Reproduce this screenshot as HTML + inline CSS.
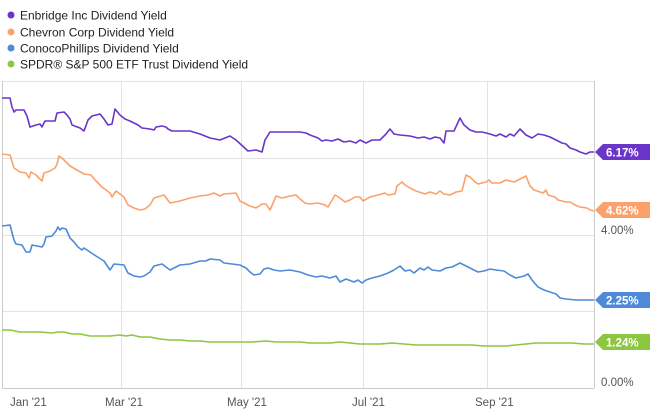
<!DOCTYPE html>
<html><head><meta charset="utf-8"><style>
body{margin:0;background:#fff;}
svg{display:block;font-family:"Liberation Sans",sans-serif;}
</style></head><body>
<svg width="650" height="415" viewBox="0 0 650 415">
<g stroke="#e3e3e3" stroke-width="1">
<line x1="2" y1="81.5" x2="594" y2="81.5"/>
<line x1="2" y1="158.5" x2="594" y2="158.5"/>
<line x1="2" y1="235.5" x2="594" y2="235.5"/>
<line x1="2" y1="311.5" x2="594" y2="311.5"/>
<line x1="121.5" y1="81" x2="121.5" y2="388"/>
<line x1="241.5" y1="81" x2="241.5" y2="388"/>
<line x1="363.5" y1="81" x2="363.5" y2="388"/>
<line x1="487.5" y1="81" x2="487.5" y2="388"/>
</g>
<line x1="2.5" y1="81" x2="2.5" y2="388" stroke="#ccc"/>
<line x1="594.5" y1="81" x2="594.5" y2="388" stroke="#ccc"/>
<line x1="2" y1="388.5" x2="594" y2="388.5" stroke="#ccc"/>
<g fill="none" stroke-width="1.6" stroke-linejoin="round">
<polyline stroke="#6a35c9" points="2,98 10,98 12,107 14,112 16,110 24,110 27,116 30,127 36,125 40,124 42,127 45,121 55,121 57,113 64,112 67,115 70,119 72,125 80,128 84,131 88,120 92,116 100,114 104,119 108,125 112,124 115,109 120,115 125,119 130,121 138,125 142,128 150,129 154,130 156,127 162,126 166,127 168,129 172,131 184,131 190,131 200,134 210,138 220,140 230,136 236,140 248,151 256,150 262,152 265,140 270,132 290,132 300,132 306,133 310,135 318,138 322,141 326,140 332,141 338,139 344,142 350,141 356,143 360,140 366,143 372,140 380,140 386,134 390,129 394,134 400,135 410,136 418,138 424,137 430,139 435,137 440,138 444,143 446,131 454,131 460,118 464,125 470,130 476,132 482,132 490,134 496,136 500,134 506,137 510,134 514,136 520,129 526,135 532,138 538,134 544,135 550,137 556,140 562,143 566,144 570,148 576,150 580,152 586,154 590,152 594,152"/>
<polyline stroke="#fba26c" points="2,154 10,155 14,168 20,172 26,173 29,178 31,172 36,175 42,181 44,173 50,171 55,168 57,164 59,156 62,158 67,163 70,166 77,170 84,174 91,175 96,181 102,187 110,193 112,197 116,191 124,197 128,205 134,208 140,210 145,209 150,205 154,198 164,195 170,203 180,201 190,198 200,196 208,195 214,193 220,196 224,194 236,193 240,201 250,206 256,208 262,204 266,204 270,210 276,196 282,198 290,196 296,195 300,199 305,203 310,204 318,203 325,205 328,207 335,195 340,198 345,202 350,200 355,197 360,197 363,201 370,197 378,195 385,193 388,195 395,194 397,186 402,182 405,185 410,188 416,191 425,194 430,192 436,194 440,191 444,194 450,195 456,192 462,191 466,175 470,177 474,181 478,184 486,182 489,180 492,183 500,183 506,180 514,182 520,179 526,176 530,186 534,190 543,193 546,190 548,195 555,197 558,200 566,202 570,202 575,205 580,207 587,208 590,210 594,211"/>
<polyline stroke="#4f8ad8" points="2,226 10,225 14,240 16,244 22,245 26,252 30,252 32,245 42,247 44,244 46,237 52,236 56,231 58,227 60,230 62,228 66,229 70,238 74,242 78,247 82,250 84,248 90,252 96,256 104,261 110,270 114,264 124,265 128,273 134,276 140,277 144,276 150,272 154,266 162,264 166,267 170,270 176,267 180,265 190,264 200,261 206,261 210,259 220,260 224,263 240,265 246,268 250,272 254,275 260,274 264,269 268,268 274,270 280,271 290,270 300,272 308,275 316,277 322,276 330,278 336,276 340,282 346,279 354,282 358,280 362,283 366,280 372,278 380,276 388,273 394,270 400,266 405,271 410,270 414,273 420,268 424,270 428,267 432,270 440,271 446,268 452,267 460,263 466,266 472,269 478,272 484,271 490,269 496,270 504,271 510,275 516,278 524,276 528,274 532,280 538,287 544,290 550,292 556,294 560,298 566,299 576,300 594,300"/>
<polyline stroke="#8dc63f" points="2,330 10,330 20,332 30,332 40,332 52,333 58,332 64,332 72,334 80,334 90,336 100,336 110,336 120,335 126,336 132,335 140,337 150,337 160,339 170,340 180,340 190,341 200,341 210,342 220,342 232,342 242,342 252,342 266,341 276,342 290,342 300,342 310,343 320,343 330,343 340,342 350,343 360,344 370,344 380,344 392,343 404,344 416,345 430,345 444,345 458,345 472,345 484,346 496,346 506,346 516,345 526,344 536,343 548,343 560,343 572,343 584,344 594,344"/>
</g>
<g font-size="11.5" font-weight="bold" fill="#fff">
<path d="M595,152 L603,144 L650,144 L650,160 L603,160 Z" fill="#6a35c9"/>
<text x="606" y="156.5">6.17%</text>
<path d="M595,210 L603,202 L650,202 L650,218 L603,218 Z" fill="#fba26c"/>
<text x="606" y="214.5">4.62%</text>
<path d="M595,300 L603,292 L650,292 L650,308 L603,308 Z" fill="#4f8ad8"/>
<text x="606" y="304.5">2.25%</text>
<path d="M595,342 L603,334 L650,334 L650,350 L603,350 Z" fill="#8dc63f"/>
<text x="606" y="346.5">1.24%</text>
</g>
<g font-size="11.5" fill="#555">
<text x="601" y="234">4.00%</text>
<text x="601" y="386">0.00%</text>
<text x="10" y="406">Jan '21</text>
<text x="105" y="406">Mar '21</text>
<text x="227" y="406">May '21</text>
<text x="352" y="406">Jul '21</text>
<text x="475" y="406">Sep '21</text>
</g>
<g font-size="12" fill="#222">
<circle cx="11" cy="15" r="3.5" fill="#6a35c9"/><text x="20" y="19.5">Enbridge Inc Dividend Yield</text>
<circle cx="11" cy="32" r="3.5" fill="#fba26c"/><text x="20" y="36.5">Chevron Corp Dividend Yield</text>
<circle cx="11" cy="48" r="3.5" fill="#4f8ad8"/><text x="20" y="52.5">ConocoPhillips Dividend Yield</text>
<circle cx="11" cy="64" r="3.5" fill="#8dc63f"/><text x="20" y="68.5">SPDR® S&amp;P 500 ETF Trust Dividend Yield</text>
</g>
</svg>
</body></html>
